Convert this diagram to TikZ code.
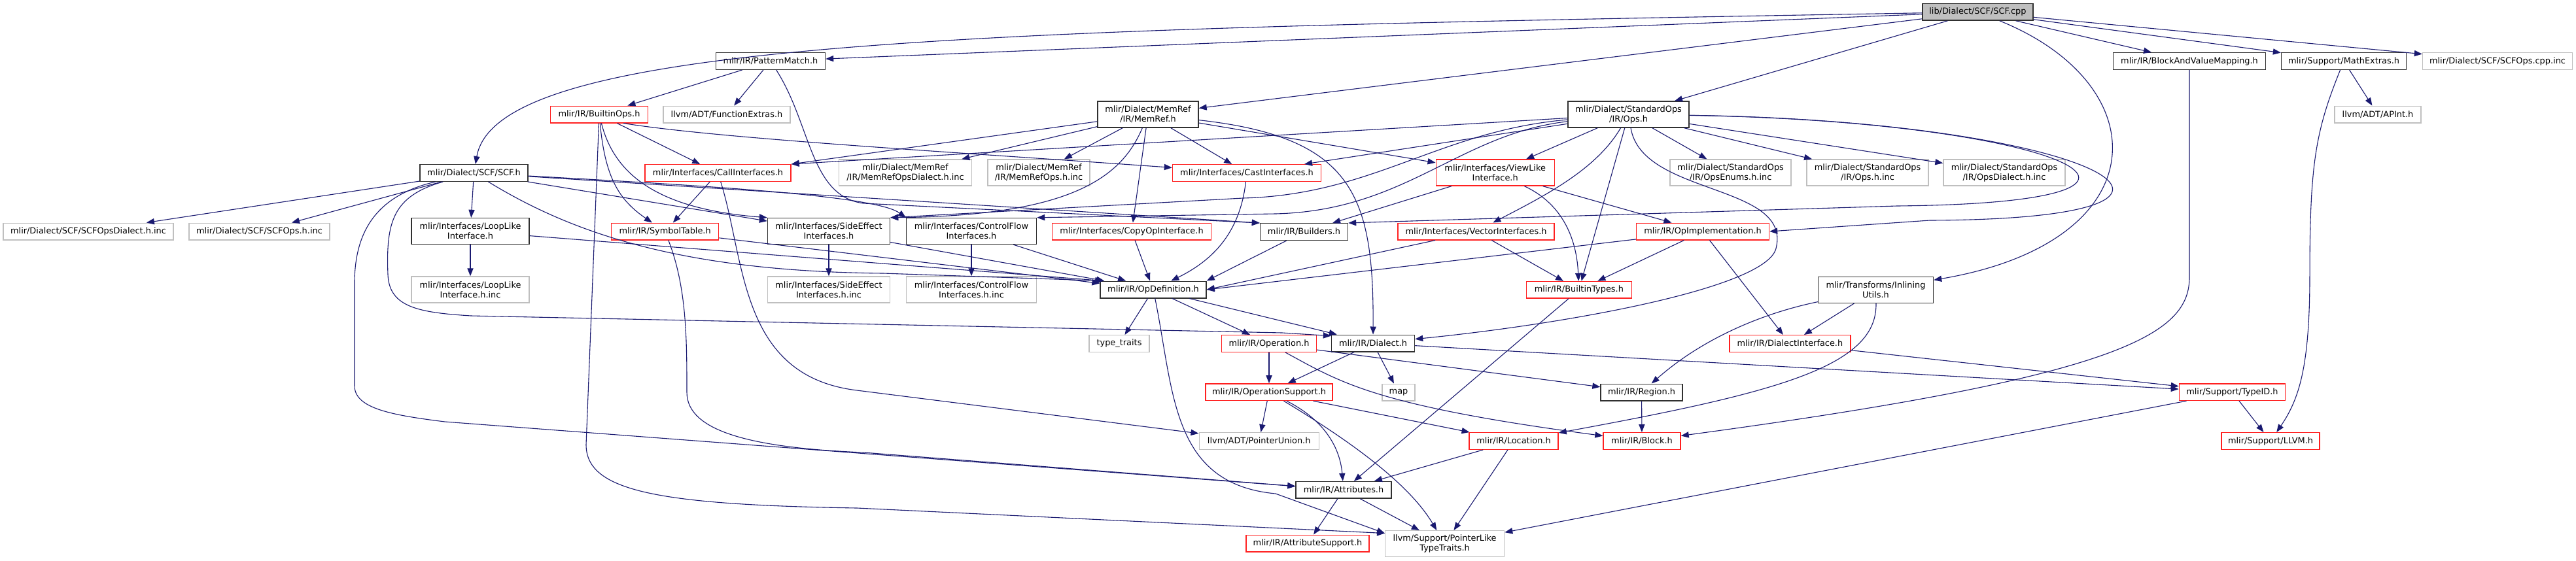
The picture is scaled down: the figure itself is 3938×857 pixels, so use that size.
\documentclass[tikz,border=0pt]{standalone}
\usepackage{fontspec}
\setmainfont{DejaVu Sans}
\usepackage{xcolor}
\usepackage{tikz}
\usetikzlibrary{arrows.meta}
\definecolor{edgeblue}{HTML}{191970}
\definecolor{docgray}{HTML}{303030}
\definecolor{extgray}{HTML}{BFBFBF}
\definecolor{truncred}{HTML}{FF2020}

\begin{document}
\begin{tikzpicture}[
  x=0.5pt, y=-0.5pt,
  file/.style={draw=docgray, line width=0.7pt, fill=white, inner sep=0pt, align=center,
    minimum height=12.8pt, font=\fontsize{6.45pt}{7.5pt}\selectfont},
  twoline/.style={minimum height=20pt},
  trunc/.style={file, draw=truncred},
  ext/.style={file, draw=extgray},
  root/.style={file, fill=extgray},
  edge/.style={draw=edgeblue, line width=0.55pt, -{Triangle[length=6pt,width=4.6pt]}},
]
\fill[white] (0,0) rectangle (3938,857);

% Files, row by row
\node[root, minimum width=84.5pt] (scfcpp) at (3023.4,18.3) {lib/Dialect/SCF/SCF.cpp};

\node[file, minimum width=83.5pt] (patmatch) at (1178,93.5) {mlir/IR/PatternMatch.h};
\node[file, minimum width=116.5pt] (bvmap) at (3347,93.5) {mlir/IR/BlockAndValueMapping.h};
\node[file, minimum width=95.5pt] (mathext) at (3583,93.5) {mlir/Support/MathExtras.h};
\node[ext, minimum width=114.5pt] (scfcppinc) at (3818,93.5) {mlir/Dialect/SCF/SCFOps.cpp.inc};

\node[trunc, minimum width=74.5pt] (builtinops) at (916,175) {mlir/IR/BuiltinOps.h};
\node[ext, minimum width=97pt] (funcext) at (1111,175) {llvm/ADT/FunctionExtras.h};
\node[file, twoline, minimum width=77pt] (memref) at (1755,175) {mlir/Dialect/MemRef\\/IR/MemRef.h};
\node[file, twoline, minimum width=92.5pt] (stdops) at (2489.6,175) {mlir/Dialect/StandardOps\\/IR/Ops.h};
\node[ext, minimum width=66pt] (apint) at (3635,175) {llvm/ADT/APInt.h};

\node[file, minimum width=82.5pt] (scfh) at (724.5,264.5) {mlir/Dialect/SCF/SCF.h};
\node[trunc, minimum width=111.5pt] (callif) at (1097.5,264.5) {mlir/Interfaces/CallInterfaces.h};
\node[ext, twoline, minimum width=101.5pt] (mrdial) at (1384,264) {mlir/Dialect/MemRef\\/IR/MemRefOpsDialect.h.inc};
\node[ext, twoline, minimum width=78pt] (mrops) at (1588,264) {mlir/Dialect/MemRef\\/IR/MemRefOps.h.inc};
\node[trunc, minimum width=113.5pt] (castif) at (1906,264.5) {mlir/Interfaces/CastInterfaces.h};
\node[trunc, twoline, minimum width=90.5pt] (viewlike) at (2285.7,264) {mlir/Interfaces/ViewLike\\Interface.h};
\node[ext, twoline, minimum width=92.5pt] (opsenums) at (2645.6,264) {mlir/Dialect/StandardOps\\/IR/OpsEnums.h.inc};
\node[ext, twoline, minimum width=93pt] (opsinc) at (2855,264) {mlir/Dialect/StandardOps\\/IR/Ops.h.inc};
\node[ext, twoline, minimum width=93pt] (opsdial) at (3064,264) {mlir/Dialect/StandardOps\\/IR/OpsDialect.h.inc};

\node[ext, minimum width=130pt] (scfdial) at (135,354) {mlir/Dialect/SCF/SCFOpsDialect.h.inc};
\node[ext, minimum width=107.5pt] (scfopsinc) at (396.5,354) {mlir/Dialect/SCF/SCFOps.h.inc};
\node[file, twoline, minimum width=90pt] (looplike) at (719,353.5) {mlir/Interfaces/LoopLike\\Interface.h};
\node[trunc, minimum width=82pt] (symtab) at (1016.6,354) {mlir/IR/SymbolTable.h};
\node[file, twoline, minimum width=93.5pt] (sideeff) at (1267,353.5) {mlir/Interfaces/SideEffect\\Interfaces.h};
\node[file, twoline, minimum width=99.5pt] (cflow) at (1485,353.5) {mlir/Interfaces/ControlFlow\\Interfaces.h};
\node[trunc, minimum width=121.5pt] (copyop) at (1730,354) {mlir/Interfaces/CopyOpInterface.h};
\node[file, minimum width=67pt] (builders) at (1993.5,354.5) {mlir/IR/Builders.h};
\node[trunc, minimum width=119.5pt] (vecif) at (2256.5,354) {mlir/Interfaces/VectorInterfaces.h};
\node[trunc, minimum width=101.5pt] (opimpl) at (2603,354) {mlir/IR/OpImplementation.h};

\node[ext, twoline, minimum width=90pt] (looplikeinc) at (719,443) {mlir/Interfaces/LoopLike\\Interface.h.inc};
\node[ext, twoline, minimum width=93.5pt] (sideeffinc) at (1267,443) {mlir/Interfaces/SideEffect\\Interfaces.h.inc};
\node[ext, twoline, minimum width=99.5pt] (cflowinc) at (1485,443) {mlir/Interfaces/ControlFlow\\Interfaces.h.inc};
\node[file, minimum width=81pt] (opdef) at (1763,443) {mlir/IR/OpDefinition.h};
\node[trunc, minimum width=80.5pt] (btypes) at (2413.8,443.3) {mlir/IR/BuiltinTypes.h};
\node[file, twoline, minimum width=88pt] (inlining) at (2867.5,443.3) {mlir/Transforms/Inlining\\Utils.h};

\node[ext, minimum width=46pt] (ttraits) at (1711,525.5) {type\_traits};
\node[trunc, minimum width=72.5pt] (operation) at (1940,525.5) {mlir/IR/Operation.h};
\node[file, minimum width=63.5pt] (dialect) at (2099,525) {mlir/IR/Dialect.h};
\node[trunc, minimum width=92.5pt] (dialif) at (2736.4,525.5) {mlir/IR/DialectInterface.h};

\node[trunc, minimum width=97pt] (opsupport) at (1940,599.7) {mlir/IR/OperationSupport.h};
\node[ext, minimum width=25pt] (map) at (2138,600) {map};
\node[file, minimum width=62.5pt] (region) at (2509.5,600) {mlir/IR/Region.h};
\node[trunc, minimum width=81pt] (typeid) at (3412.4,599.7) {mlir/Support/TypeID.h};

\node[ext, minimum width=91.5pt] (punion) at (1924.7,674.5) {llvm/ADT/PointerUnion.h};
\node[trunc, minimum width=68pt] (location) at (2314,674.5) {mlir/IR/Location.h};
\node[trunc, minimum width=59pt] (block) at (2510,674.5) {mlir/IR/Block.h};
\node[trunc, minimum width=75pt] (llvmh) at (3471,674.5) {mlir/Support/LLVM.h};

\node[file, minimum width=73pt] (attrs) at (2054,749.3) {mlir/IR/Attributes.h};

\node[trunc, minimum width=94pt] (attrsup) at (1999,831) {mlir/IR/AttributeSupport.h};
\node[ext, twoline, minimum width=91pt] (ptrlike) at (2208.6,831.7) {llvm/Support/PointerLike\\TypeTraits.h};

% Includes of SCF.cpp
\draw[edge] (scfcpp) -- (patmatch);
\draw[edge] (scfcpp) .. controls (1500,45) and (760,60) .. (scfh);
\draw[edge] (scfcpp) -- (memref);
\draw[edge] (scfcpp) -- (stdops);
\draw[edge] (scfcpp) -- (bvmap);
\draw[edge] (scfcpp) -- (mathext);
\draw[edge] (scfcpp) -- (scfcppinc);
\draw[edge] (scfcpp) .. controls (3300,130) and (3300,370) .. (inlining);

% PatternMatch.h, BuiltinOps.h, CallInterfaces.h, SymbolTable.h
\draw[edge] (patmatch) -- (builtinops);
\draw[edge] (patmatch) -- (funcext);
\draw[edge] (patmatch) .. controls (1240,190) and (1238,300) .. (1320,311) -- (builders.north west);
\draw[edge] (builtinops) -- (callif);
\draw[edge] (builtinops.-20) .. controls (1100,212) and (1450,232) .. (castif);
\draw[edge] (builtinops) .. controls (925,270) and (945,305) .. (symtab);
\draw[edge] (builtinops) .. controls (940,270) and (1010,320) .. (sideeff.north west);
\draw[edge] (builtinops) -- (896,680) .. controls (896,750) and (1000,772) .. (1310,777) -- (ptrlike.170);
\draw[edge] (callif) -- (symtab);
\draw[edge] (callif) .. controls (1140,400) and (1130,575) .. (1310,597) -- (punion);
\draw[edge] (symtab) -- (opdef);
\draw[edge] (symtab) .. controls (1050,440) and (1050,520) .. (1050,600) .. controls (1050,660) and (1150,685) .. (1320,692) -- (attrs);

% SCF.h
\draw[edge] (scfh) -- (scfdial);
\draw[edge] (scfh) -- (scfopsinc);
\draw[edge] (scfh) -- (looplike);
\draw[edge] (scfh) -- (sideeff);
\draw[edge] (scfh) -- (builders.north west);
\draw[edge] (scfh) .. controls (1100,285) and (1340,300) .. (cflow.north west);
\draw[edge] (scfh) .. controls (880,360) and (1050,415) .. (1350,418) -- (opdef.170);
\draw[edge] (scfh) .. controls (600,300) and (590,340) .. (593,420) .. controls (595,470) and (640,478) .. (720,483) -- (1960,509) -- (dialect.170);
\draw[edge] (scfh) .. controls (570,300) and (543,360) .. (542,430) -- (542,590) .. controls (542,625) and (600,635) .. (680,645) -- (attrs);

% Interfaces
\draw[edge] (looplike) -- (looplikeinc);
\draw[edge] (looplike) -- (opdef.170);
\draw[edge] (sideeff) -- (sideeffinc);
\draw[edge] (sideeff) -- (opdef);
\draw[edge] (cflow) -- (cflowinc);
\draw[edge] (cflow) -- (opdef);
\draw[edge] (copyop) -- (opdef);
\draw[edge] (castif) .. controls (1895,360) and (1850,400) .. (opdef);
\draw[edge] (builders) -- (opdef.north east);
\draw[edge] (vecif) -- (opdef.east);
\draw[edge] (vecif) -- (btypes);
\draw[edge] (opimpl) -- (opdef.east);
\draw[edge] (opimpl) -- (btypes);
\draw[edge] (opimpl) -- (dialif);
\draw[edge] (viewlike) -- (builders);
\draw[edge] (viewlike) .. controls (2385,310) and (2410,360) .. (btypes);
\draw[edge] (viewlike) -- (opimpl);

% StandardOps/IR/Ops.h
\draw[edge] (stdops) -- (callif.north east);
\draw[edge] (stdops) -- (castif);
\draw[edge] (stdops) .. controls (2200,200) and (2100,298) .. (1900,303) -- (sideeff.north east);
\draw[edge] (stdops) .. controls (2230,205) and (2150,322) .. (1950,327) -- (cflow.north east);
\draw[edge] (stdops) -- (viewlike);
\draw[edge] (stdops) .. controls (2440,260) and (2360,300) .. (vecif);
\draw[edge] (stdops) -- (btypes);
\draw[edge] (stdops) .. controls (2510,300) and (2740,280) .. (2715,380) .. controls (2700,440) and (2400,495) .. (dialect);
\draw[edge] (stdops) -- (opsenums);
\draw[edge] (stdops) -- (opsinc);
\draw[edge] (stdops) -- (opsdial);
\draw[edge] (stdops) .. controls (3150,185) and (3420,310) .. (2900,315) -- (builders.north east);
\draw[edge] (stdops) .. controls (3200,185) and (3480,335) .. (2950,337) -- (opimpl.east);

% MemRef.h
\draw[edge] (memref) -- (callif.north east);
\draw[edge] (memref) -- (mrdial);
\draw[edge] (memref) -- (mrops);
\draw[edge] (memref) .. controls (1715,270) and (1640,330) .. (sideeff.north east);
\draw[edge] (memref) -- (copyop);
\draw[edge] (memref) -- (castif);
\draw[edge] (memref) -- (viewlike);
\draw[edge] (memref) .. controls (2070,210) and (2100,300) .. (dialect);

% IR core
\draw[edge] (opdef) -- (ttraits);
\draw[edge] (opdef) -- (operation);
\draw[edge] (opdef) -- (dialect);
\draw[edge] (opdef) .. controls (1795,600) and (1790,740) .. (1950,755) -- (ptrlike.170);
\draw[edge] (operation) -- (opsupport);
\draw[edge] (operation) -- (region);
\draw[edge] (operation) .. controls (2050,585) and (2100,620) .. (block);
\draw[edge] (dialect) -- (opsupport);
\draw[edge] (dialect) -- (map);
\draw[edge] (dialect) -- (typeid);
\draw[edge] (dialif) -- (typeid);
\draw[edge] (opsupport) -- (punion);
\draw[edge] (opsupport) -- (location);
\draw[edge] (opsupport) .. controls (2020,640) and (2048,680) .. (attrs);
\draw[edge] (opsupport) .. controls (2090,690) and (2160,750) .. (ptrlike);
\draw[edge] (location) -- (attrs);
\draw[edge] (location) -- (ptrlike);
\draw[edge] (region) -- (block);
\draw[edge] (attrs) -- (attrsup);
\draw[edge] (attrs) -- (ptrlike);
\draw[edge] (btypes) -- (attrs);

% InliningUtils.h, BlockAndValueMapping.h, MathExtras.h, TypeID.h
\draw[edge] (inlining) -- (dialif);
\draw[edge] (inlining) .. controls (2690,480) and (2600,520) .. (region);
\draw[edge] (inlining) .. controls (2870,560) and (2720,600) .. (location);
\draw[edge] (bvmap) -- ++(0,330) .. controls (3347,510) and (3250,575) .. (block);
\draw[edge] (mathext) -- (apint);
\draw[edge] (mathext) .. controls (3540,200) and (3531,250) .. (3531,420) .. controls (3531,560) and (3515,610) .. (llvmh);
\draw[edge] (typeid) -- (llvmh);
\draw[edge] (typeid) -- (ptrlike);

\end{tikzpicture}
\end{document}
